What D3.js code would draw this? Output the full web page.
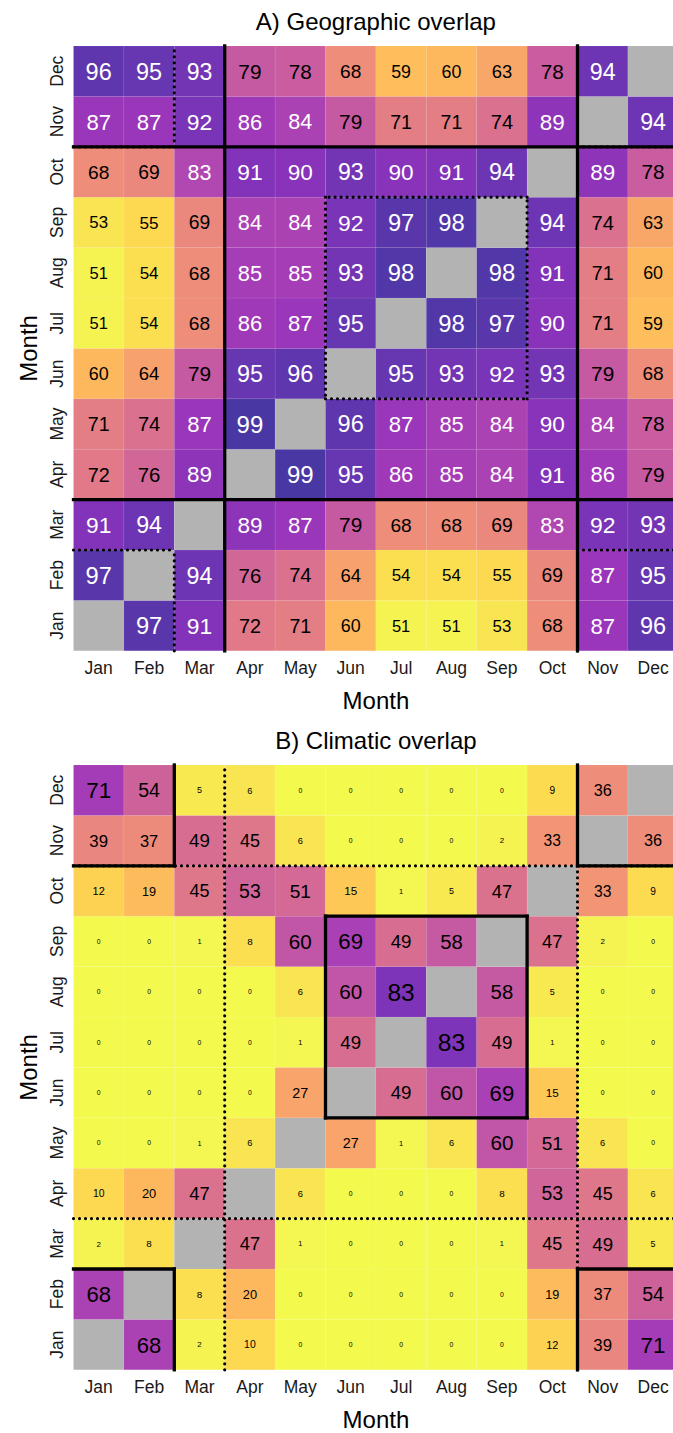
<!DOCTYPE html>
<html>

<head>
  <meta charset="utf-8">
  <script src="https://d3js.org/d3.v7.min.js"></script>

  <style>
    body {
      margin: 0;
      background: #fff;
    }

    svg text {
      font-family: "Liberation Sans", Arial, sans-serif;
    }

    .tick text {
      fill: #1a1a1a;
      font-size: 17.5px;
    }
  </style>
</head>

<body>
  <script type="text/javascript">
    // month labels, Jan..Dec
    var months = ['Jan', 'Feb', 'Mar', 'Apr', 'May', 'Jun', 'Jul', 'Aug', 'Sep', 'Oct', 'Nov', 'Dec'];

    // A) geographic overlap, one row per y-month (Jan first), columns Jan..Dec
    var geoRows = [
      [null, 97, 91, 72, 71, 60, 51, 51, 53, 68, 87, 96],
      [97, null, 94, 76, 74, 64, 54, 54, 55, 69, 87, 95],
      [91, 94, null, 89, 87, 79, 68, 68, 69, 83, 92, 93],
      [72, 76, 89, null, 99, 95, 86, 85, 84, 91, 86, 79],
      [71, 74, 87, 99, null, 96, 87, 85, 84, 90, 84, 78],
      [60, 64, 79, 95, 96, null, 95, 93, 92, 93, 79, 68],
      [51, 54, 68, 86, 87, 95, null, 98, 97, 90, 71, 59],
      [51, 54, 68, 85, 85, 93, 98, null, 98, 91, 71, 60],
      [53, 55, 69, 84, 84, 92, 97, 98, null, 94, 74, 63],
      [68, 69, 83, 91, 90, 93, 90, 91, 94, null, 89, 78],
      [87, 87, 92, 86, 84, 79, 71, 71, 74, 89, null, 94],
      [96, 95, 93, 79, 78, 68, 59, 60, 63, 78, 94, null]
    ];

    // B) climatic overlap, same layout
    var climRows = [
      [null, 68, 2, 10, 0, 0, 0, 0, 0, 12, 39, 71],
      [68, null, 8, 20, 0, 0, 0, 0, 0, 19, 37, 54],
      [2, 8, null, 47, 1, 0, 0, 0, 1, 45, 49, 5],
      [10, 20, 47, null, 6, 0, 0, 0, 8, 53, 45, 6],
      [0, 0, 1, 6, null, 27, 1, 6, 60, 51, 6, 0],
      [0, 0, 0, 0, 27, null, 49, 60, 69, 15, 0, 0],
      [0, 0, 0, 0, 1, 49, null, 83, 49, 1, 0, 0],
      [0, 0, 0, 0, 6, 60, 83, null, 58, 5, 0, 0],
      [0, 0, 1, 8, 60, 69, 49, 58, null, 47, 2, 0],
      [12, 19, 45, 53, 51, 15, 1, 5, 47, null, 33, 9],
      [39, 37, 49, 45, 6, 0, 0, 0, 2, 33, null, 36],
      [71, 54, 5, 6, 0, 0, 0, 0, 0, 9, 36, null]
    ];

    // outlines, in month-boundary units [x1, y1, x2, y2] (0 = before Jan, 12 = after Dec)
    var seasonSplit = [[3, 0, 3, 12], [10, 0, 10, 12], [0, 3, 12, 3], [0, 10, 12, 10]];
    var winterBlock = [[2, 0, 2, 2], [0, 2, 2, 2], [2, 10, 2, 12], [0, 10, 2, 10],
      [10, 0, 10, 2], [10, 2, 12, 2], [10, 10, 10, 12], [10, 10, 12, 10]];
    var summerBlock = [[5, 5, 9, 5], [9, 5, 9, 9], [9, 9, 5, 9], [5, 9, 5, 5]];

    var W = 673, H = 1433;
    var left = 73.5, cell = 50.4;

    var svg = d3.select('body')
      .append('svg')
      .attr('width', W)
      .attr('height', H);

    function panel(opts) {
      var top = opts.top;
      var g = svg.append('g');

      var x = d3.scaleBand().domain(months).range([left, left + 12 * cell]);
      var y = d3.scaleBand().domain(months.slice().reverse()).range([top, top + 12 * cell]);
      var bx = d3.scaleLinear().domain([0, 12]).range([left, left + 12 * cell]);
      var by = d3.scaleLinear().domain([0, 12]).range([top + 12 * cell, top]);

      var cells = [];
      opts.rows.forEach(function(r, i) {
        r.forEach(function(v, j) {
          cells.push({ ym: months[i], xm: months[j], v: v });
        });
      });

      g.selectAll('rect.tile')
        .data(cells)
        .enter().append('rect')
        .attr('class', 'tile')
        .attr('x', function(d) { return x(d.xm); })
        .attr('y', function(d) { return y(d.ym); })
        .attr('width', x.bandwidth())
        .attr('height', y.bandwidth())
        .attr('fill', function(d) { return d.v === null ? '#b3b3b3' : opts.color(d.v); })
        .attr('fill-opacity', function(d) { return d.v === null ? 1 : 0.8; })
        .attr('stroke', '#fff')
        .attr('stroke-opacity', 0.12)
        .attr('stroke-width', 0.6);

      g.selectAll('text.val')
        .data(cells.filter(function(d) { return d.v !== null; }))
        .enter().append('text')
        .attr('class', 'val')
        .attr('x', function(d) { return x(d.xm) + x.bandwidth() / 2; })
        .attr('y', function(d) { return y(d.ym) + y.bandwidth() / 2; })
        .attr('dy', '0.36em')
        .attr('text-anchor', 'middle')
        .style('font-size', function(d) { return opts.size(d.v) + 'px'; })
        .attr('fill', function(d) { return d.v >= opts.whiteFrom ? '#fff' : '#000'; })
        .text(function(d) { return d.v; });

      function lines(segs, dotted) {
        g.append('g').selectAll('line')
          .data(segs)
          .enter().append('line')
          .attr('x1', function(d) { return bx(d[0]); })
          .attr('y1', function(d) { return by(d[1]); })
          .attr('x2', function(d) { return bx(d[2]); })
          .attr('y2', function(d) { return by(d[3]); })
          .attr('stroke', '#000')
          .attr('stroke-width', dotted ? 3.2 : 3.3)
          .attr('stroke-linecap', dotted ? 'round' : 'square')
          .attr('stroke-dasharray', dotted ? '0,6' : null);
      }
      lines(opts.dotted, true);
      lines(opts.solid, false);

      // axes
      var xAxis = g.append('g')
        .attr('transform', 'translate(0,' + (top + 12 * cell) + ')')
        .call(d3.axisBottom(x).tickSize(0).tickPadding(10.6));
      xAxis.select('.domain').remove();

      var yAxis = g.append('g')
        .attr('transform', 'translate(' + left + ',0)')
        .call(d3.axisLeft(y).tickSize(0));
      yAxis.select('.domain').remove();
      yAxis.selectAll('.tick text')
        .attr('transform', 'rotate(-90)')
        .attr('x', 0)
        .attr('y', -10.5)
        .attr('dy', 0)
        .attr('text-anchor', 'middle');

      var cx = left + 6 * cell;
      g.append('text')
        .attr('x', cx)
        .attr('y', top - 16)
        .attr('text-anchor', 'middle')
        .style('font-size', '24px')
        .text(opts.title);

      g.append('text')
        .attr('x', cx)
        .attr('y', top + 12 * cell + 58)
        .attr('text-anchor', 'middle')
        .style('font-size', '24px')
        .text('Month');

      g.append('text')
        .attr('transform', 'translate(37,' + (top + 6 * cell) + ') rotate(-90)')
        .attr('text-anchor', 'middle')
        .style('font-size', '24px')
        .text('Month');
    }

    panel({
      top: 46,
      rows: geoRows,
      title: 'A) Geographic overlap',
      color: function(v) { return d3.interpolatePlasma(1 - (v - 50) / 50); },
      size: d3.scaleLinear().domain([51, 99]).range([16.5, 24]),
      whiteFrom: 80,
      dotted: winterBlock.concat(summerBlock),
      solid: seasonSplit
    });

    panel({
      top: 765,
      rows: climRows,
      title: 'B) Climatic overlap',
      color: function(v) { return d3.interpolatePlasma(1 - v / 100); },
      size: d3.scalePow().exponent(0.75).domain([0, 83]).range([6.8, 24.5]),
      whiteFrom: Infinity,
      dotted: seasonSplit,
      solid: winterBlock.concat(summerBlock)
    });
  </script>
</body>

</html>
